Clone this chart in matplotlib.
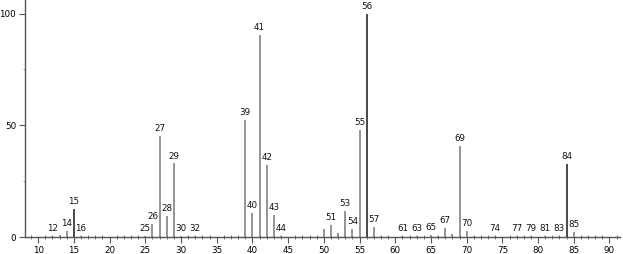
import numpy as np
import matplotlib
matplotlib.use('Agg')
import matplotlib.pyplot as plt
from matplotlib.ticker import MultipleLocator

# m/z and relative intensity
mz = [12, 13, 14, 15, 16, 25, 26, 27, 28, 29, 30, 31, 32,
      39, 40, 41, 42, 43, 44, 50, 51, 52, 53, 54, 55, 56, 57, 58,
      61, 63, 65, 66, 67, 68, 69, 70, 71, 74, 77, 79, 81, 83, 84, 85]
intensity = [0.5, 1.0, 3.0, 12.8, 0.5, 0.6, 6.0, 45.2, 9.5, 33.0, 0.8, 0.5, 0.5,
             52.4, 11.0, 90.5, 32.4, 10.0, 0.5, 3.9, 5.4, 1.8, 11.9, 3.6, 47.9, 100.0, 4.7, 0.5,
             0.5, 0.5, 1.2, 0.5, 4.2, 1.5, 40.8, 2.8, 0.5, 0.5, 0.5, 0.5, 0.5, 0.5, 32.7, 2.4]
labelled = [12, 14, 15, 16, 25, 26, 27, 28, 29, 30, 32, 39, 40, 41, 42, 43, 44,
            51, 53, 54, 55, 56, 57, 61, 63, 65, 67, 69, 70, 74, 77, 79, 81, 83, 84, 85]
x_ticks = [10, 15, 20, 25, 30, 35, 40, 45, 50, 55, 60, 65, 70, 75, 80, 85, 90]
y_ticks = [0, 50, 100]

dark = [15, 56, 84]

fig = plt.figure(figsize=(6.23, 2.54), dpi=100)
ax = fig.add_axes([0.0395, 0.0657, 0.956, 0.934])

for m, v in zip(mz, intensity):
    c = '#3a3a3a' if m in dark else '#8c8c8c'
    ax.vlines(m, 0, v, colors=c, linewidth=1.3)
    if m in labelled:
        ax.annotate(str(m), (m, v), xytext=(0, 2), textcoords='offset points',
                    ha='center', va='bottom', fontsize=6.3, color='#111111')

ax.set_xlim(8.1, 91.5)
ax.set_ylim(0, 106)
ax.set_xticks(x_ticks)
ax.set_yticks(y_ticks)
ax.xaxis.set_minor_locator(MultipleLocator(1))
ax.yaxis.set_minor_locator(MultipleLocator(25))
ax.tick_params(axis='both', which='major', length=4, width=0.8, color='#555555',
               labelsize=6.3, pad=2)
ax.tick_params(axis='x', which='minor', direction='inout', length=3, width=0.6, color='#555555')
ax.tick_params(axis='y', which='minor', length=1.5, width=0.6, color='#999999')

for s in ['top', 'right']:
    ax.spines[s].set_visible(False)
for s in ['left', 'bottom']:
    ax.spines[s].set_color('#555555')
    ax.spines[s].set_linewidth(1.0)

fig.savefig('out.png', dpi=100)
